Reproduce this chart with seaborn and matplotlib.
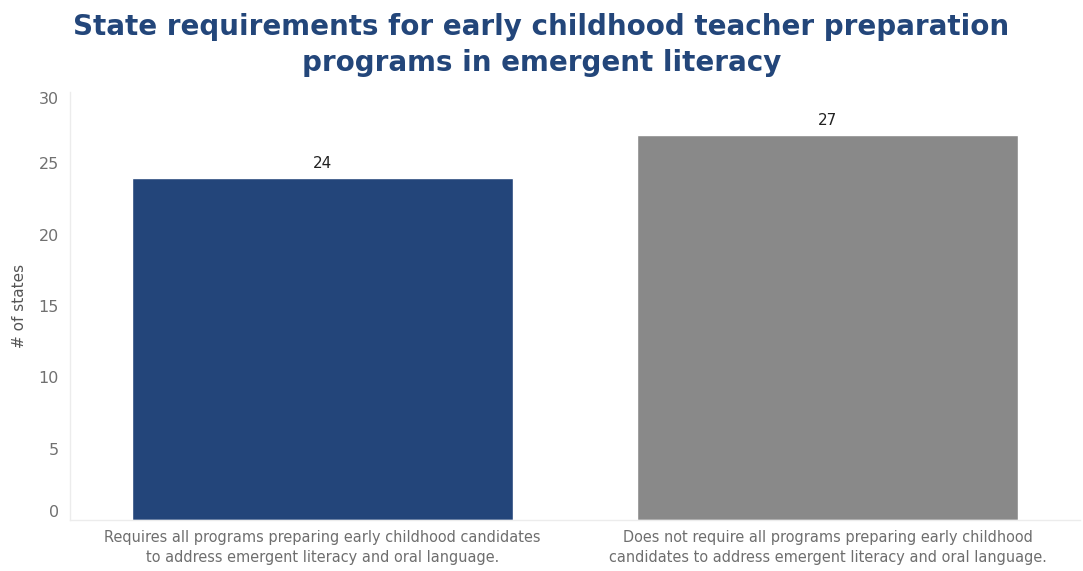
import matplotlib
matplotlib.use("Agg")
import matplotlib.pyplot as plt
import seaborn as sns
import pandas as pd

# Data
categories = [
    "Requires all programs preparing early childhood candidates\nto address emergent literacy and oral language.",
    "Does not require all programs preparing early childhood\ncandidates to address emergent literacy and oral language.",
]
states = [24, 27]
bar_colors = ["#23457A", "#898989"]
y_ticks = [0, 5, 10, 15, 20, 25, 30]

sns.set_theme(style="white")
plt.rcParams["font.family"] = ["DejaVu Sans"]

df = pd.DataFrame({"category": categories, "states": states})

fig = plt.figure(figsize=(10.83, 5.71), dpi=100)
ax = fig.add_axes([70 / 1083, 1 - 520 / 571, 1010 / 1083, 428 / 571])

sns.barplot(data=df, x="category", y="states", hue="category",
            palette=bar_colors, width=0.755, legend=False, ax=ax,
            saturation=1)

ax.set_xlim(-0.5, 1.5)
ax.set_ylim(0, 30)
ax.set_yticks(y_ticks)
ax.set_yticklabels([str(t) for t in y_ticks])

# value labels
for i, v in enumerate(states):
    ax.text(i, v + 0.45, str(v), ha="center", va="bottom",
            fontsize=11, color="#222222")

for s in ["top", "right"]:
    ax.spines[s].set_visible(False)
ax.spines["left"].set_color("#ECECEC")
ax.spines["bottom"].set_color("#ECECEC")
ax.spines["left"].set_linewidth(1)
ax.spines["bottom"].set_linewidth(1)

ax.tick_params(axis="y", length=4, color="#F0F0F0", pad=4,
               labelsize=11.5, labelcolor="#707070")
ax.tick_params(axis="x", length=0, pad=7, labelsize=10.45,
               labelcolor="#6E6E6E")
for lab in ax.get_xticklabels():
    lab.set_multialignment("center")
    lab.set_linespacing(1.45)

ylabs = ax.get_yticklabels()
ylabs[0].set_va("bottom")
ylabs[-1].set_va("top")

ax.set_xlabel("")
ax.set_ylabel("# of states", fontsize=11, color="#555555")
ax.yaxis.set_label_coords(-0.043, 0.5)

fig.text(0.5, 0.978,
         "State requirements for early childhood teacher preparation\nprograms in emergent literacy",
         ha="center", va="top", fontsize=20, fontweight="bold",
         color="#23467A", linespacing=1.4)

fig.savefig("out.png", dpi=100, facecolor="white")
